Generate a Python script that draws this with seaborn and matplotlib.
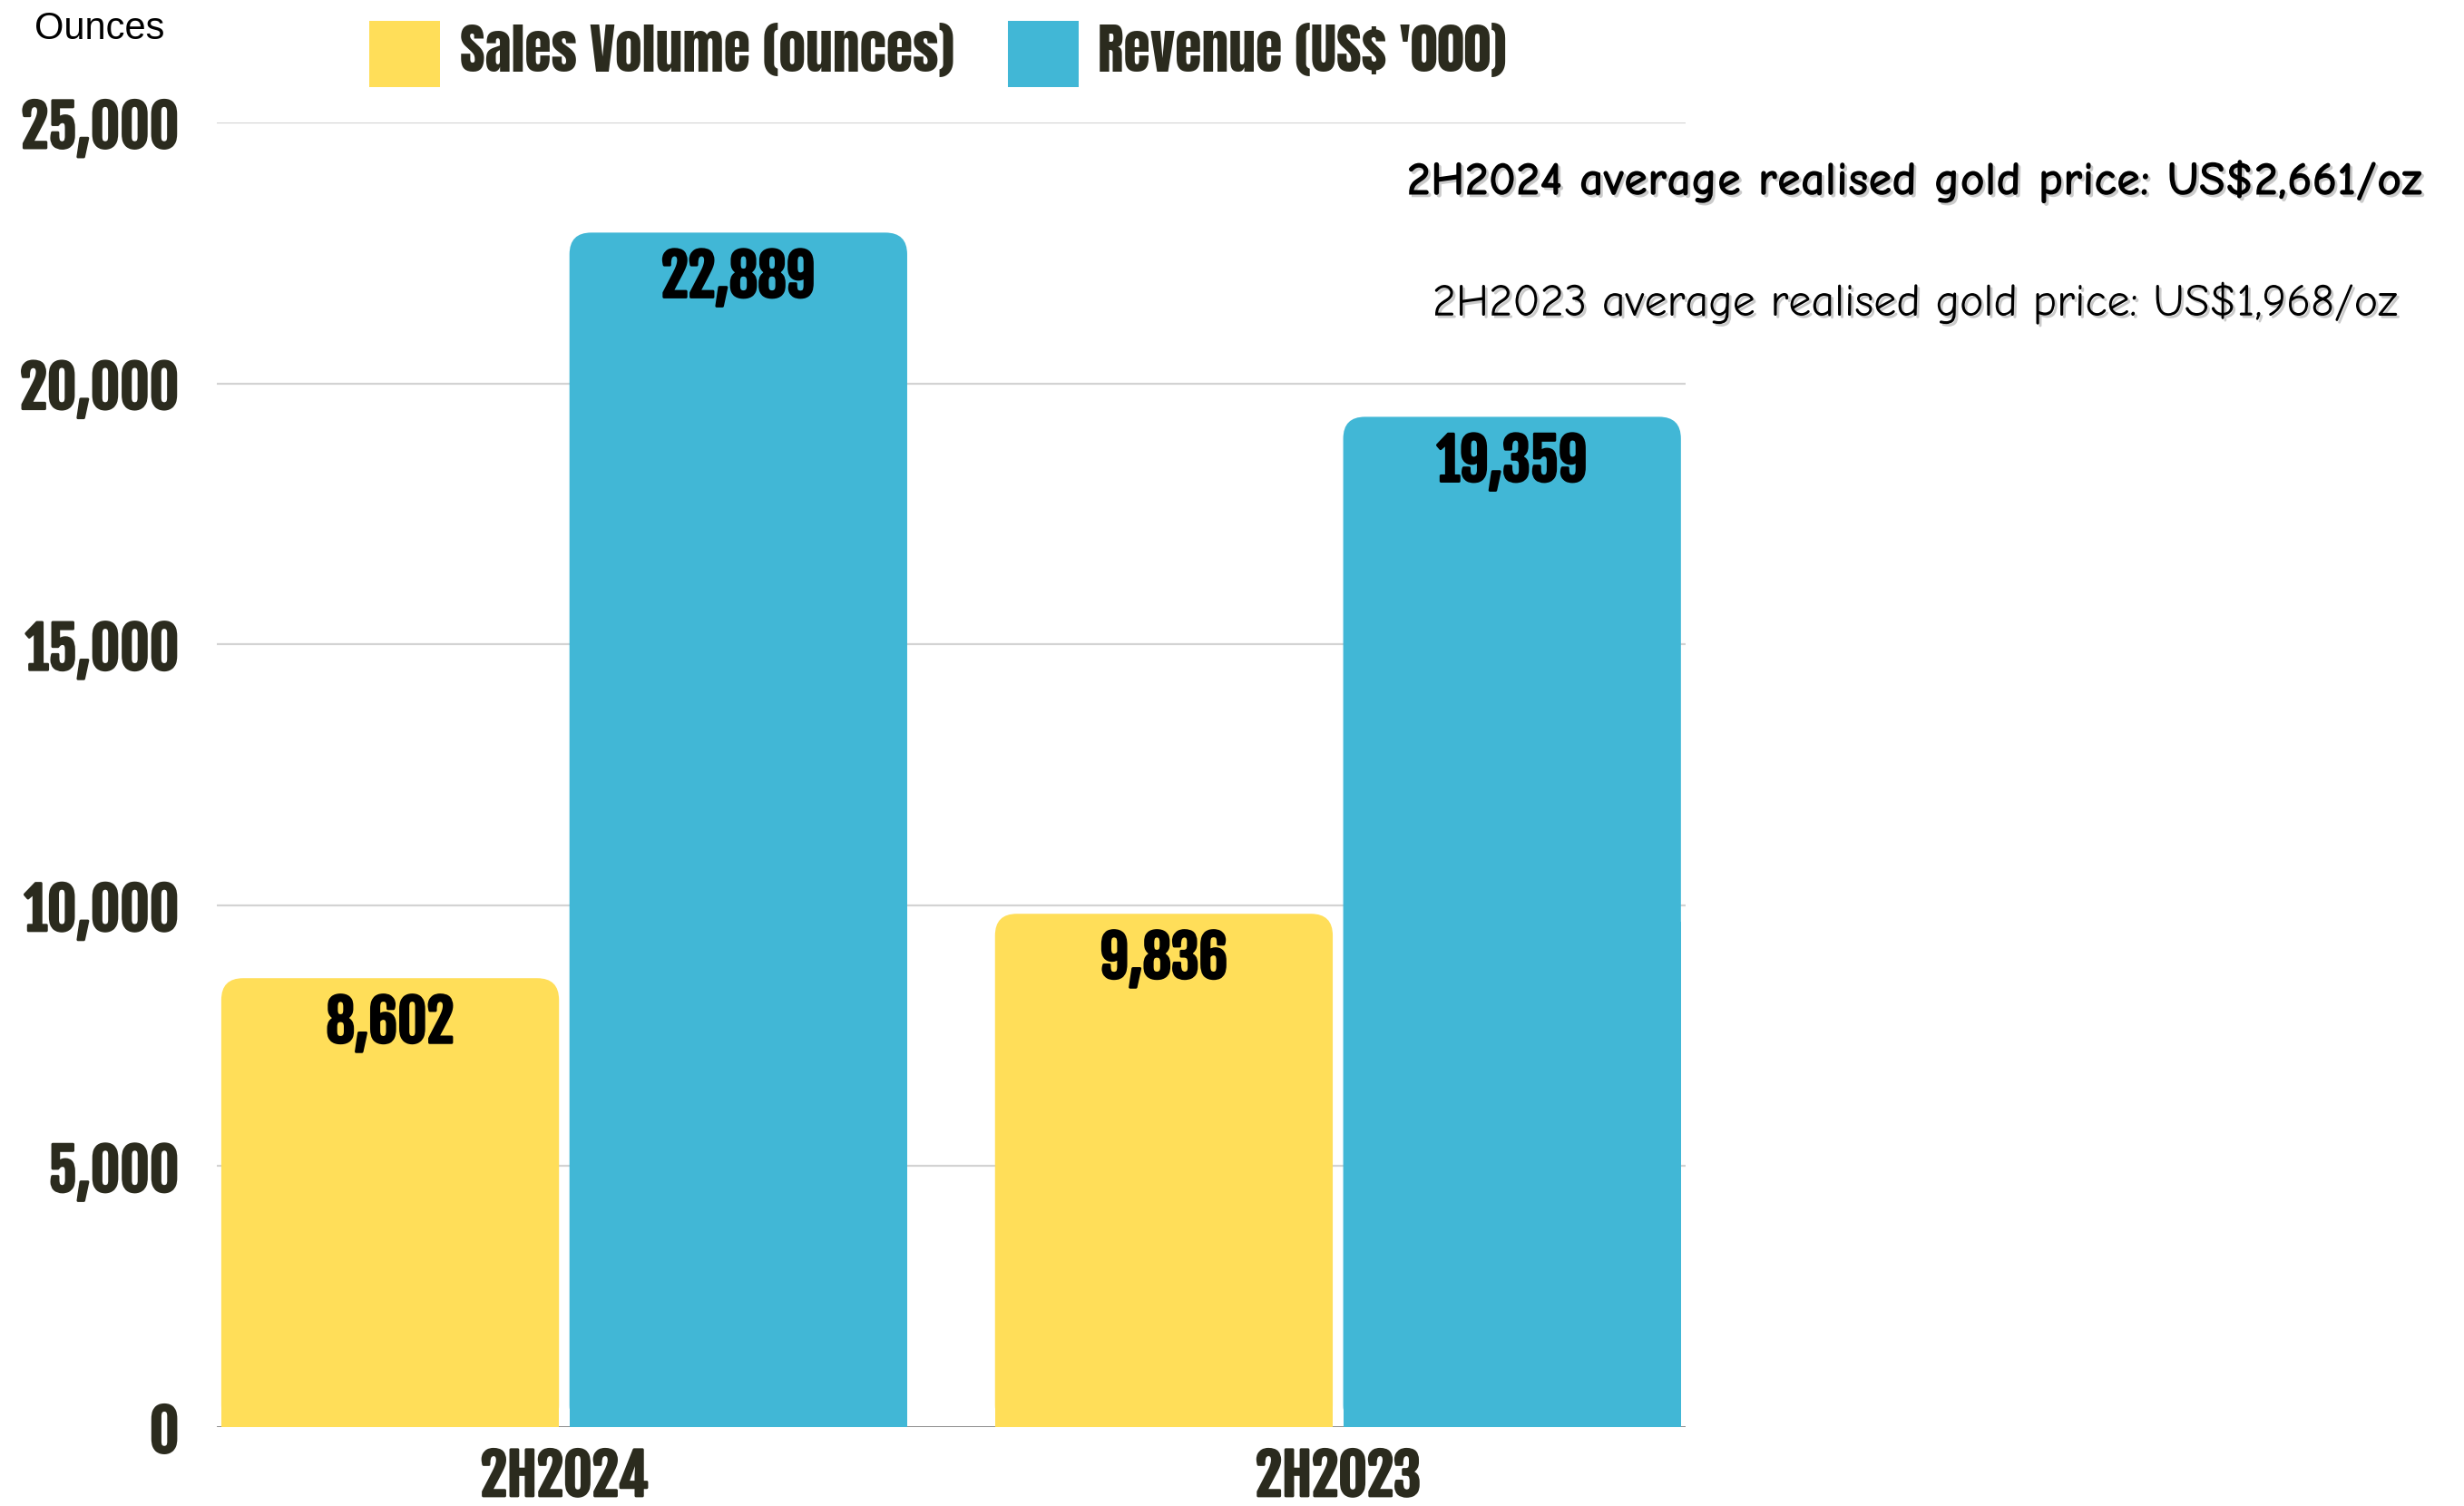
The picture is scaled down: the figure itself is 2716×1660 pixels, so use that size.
import pandas as pd
import seaborn as sns
import matplotlib.pyplot as plt
from matplotlib.patches import FancyBboxPatch, Rectangle, Patch
from matplotlib import patheffects

periods = ['2H2024', '2H2023']
sales_volume = [8602, 9836]
revenue = [22889, 19359]
series_names = ['Sales Volume (ounces)', "Revenue (US$ '000)"]
y_ticks = [0, 5000, 10000, 15000, 20000, 25000]
notes = ['2H2024 average realised gold price: US$2,661/oz',
         '2H2023 average realised gold price: US$1,968/oz']

yellow = '#FFDE59'
blue = '#41B7D6'
dark = '#2B2B1E'

num_font = ['Fjalla One', 'Oswald', 'DejaVu Sans']
leg_font = ['Anton', 'Oswald', 'DejaVu Sans']
comic = ['Comic Neue', 'DejaVu Sans']

df = pd.DataFrame({
    'period': periods * 2,
    'series': [series_names[0]] * 2 + [series_names[1]] * 2,
    'value': sales_volume + revenue,
})

sns.set_theme(style='white')
fig = plt.figure(figsize=(27.16, 16.6), dpi=100)
ax = fig.add_axes([0.088, 0.0524, 0.596, 0.8663])

sns.barplot(data=df, x='period', y='value', hue='series', order=periods,
            hue_order=series_names, palette=[yellow, blue], width=0.9, gap=0.03,
            legend=False, ax=ax, saturation=1, errorbar=None)

xmin, xmax = -0.449, 1.449
ymin, ymax = 0, 25000
ax.set_xlim(xmin, xmax)
ax.set_ylim(ymin, ymax)

# thicken the condensed font a bit (only a regular weight is available)
def heavy(color, lw=2.2):
    return [patheffects.withStroke(linewidth=lw, foreground=color)]

# rounded tops on the bars
wpx = fig.get_figwidth() * fig.dpi * 0.596
hpx = fig.get_figheight() * fig.dpi * 0.8663
aspect = ((ymax - ymin) / hpx) / ((xmax - xmin) / wpx)
r = 24 * (xmax - xmin) / wpx
off = 50 * (ymax - ymin) / hpx
for bar in list(ax.patches):
    x, w, h = bar.get_x(), bar.get_width(), bar.get_height()
    fc = bar.get_facecolor()
    bar.remove()
    ax.add_patch(FancyBboxPatch((x, 0), w, h, boxstyle=f'round,pad=0,rounding_size={r}',
                                mutation_aspect=aspect, fc=fc, ec='none', zorder=3))
    ax.add_patch(Rectangle((x, 0), w, h / 2, fc=fc, ec='none', zorder=3))
    ax.text(x + w / 2, h - off, f'{int(round(h)):,}', ha='center', va='center',
            fontsize=45, family=num_font, color='black', zorder=4,
            path_effects=heavy('black'))

for t in y_ticks[1:]:
    ax.axhline(t, color='#d3d3d3', lw=1.6, zorder=1)
ax.axhline(0, color='#808080', lw=2, zorder=1)

sns.despine(ax=ax, left=True, bottom=True)
ax.set_yticks(y_ticks)
ax.set_yticklabels([f'{t:,}' for t in y_ticks])
ax.tick_params(axis='both', length=0)
ax.tick_params(axis='y', pad=30)
ax.tick_params(axis='x', pad=15)
for lbl in ax.get_yticklabels():
    lbl.set_fontsize(45)
for lbl in ax.get_xticklabels():
    lbl.set_fontsize(44)
for lbl in ax.get_yticklabels() + ax.get_xticklabels():
    lbl.set_fontfamily(num_font)
    lbl.set_color(dark)
    lbl.set_path_effects(heavy(dark))
ax.set_xlabel('')
ax.set_ylabel('')

fig.text(0.014, 0.981, 'Ounces', ha='left', va='center', fontsize=30,
         family=['Liberation Sans', 'DejaVu Sans'], color='black')

handles = [Patch(facecolor=yellow, edgecolor='none'), Patch(facecolor=blue, edgecolor='none')]
leg = fig.legend(handles, series_names, loc='upper left', bbox_to_anchor=(0.139, 1.004),
                 ncol=2, frameon=False, handlelength=1.3, handleheight=1.5,
                 handletextpad=0.36, columnspacing=1.0, borderpad=0.0,
                 prop={'family': leg_font, 'size': 43})
for t in leg.get_texts():
    t.set_color(dark)

shadow = [patheffects.withSimplePatchShadow(offset=(2, -2), shadow_rgbFace='#999999', alpha=0.5)]
fig.text(0.777, 1 - 200 / 1660, notes[0], ha='center', va='center', fontsize=38,
         fontweight='bold', family=comic, color='black', path_effects=shadow)
fig.text(0.777, 1 - 334 / 1660, notes[1], ha='center', va='center', fontsize=36,
         family=comic, color='black', path_effects=shadow)

fig.savefig('out.png', dpi=100, facecolor='white')
